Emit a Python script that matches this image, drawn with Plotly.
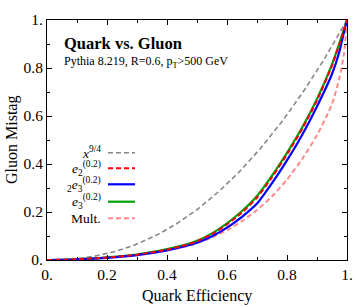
import numpy as np
import plotly.graph_objects as go

# Quark efficiency grid
eff = [0.0, 0.1, 0.2, 0.3, 0.4, 0.45, 0.5, 0.55, 0.6, 0.65, 0.7, 0.75, 0.8, 0.85, 0.9, 0.95, 0.975, 0.99, 1.0]

# Gluon mistag per observable
e2_vals   = [0.0, 0.003, 0.010, 0.022, 0.043, 0.058, 0.078, 0.108, 0.148, 0.198, 0.260, 0.345, 0.440, 0.545, 0.665, 0.810, 0.900, 0.960, 1.0]
e3_vals   = [0.0, 0.003, 0.011, 0.023, 0.045, 0.060, 0.080, 0.111, 0.153, 0.204, 0.267, 0.352, 0.447, 0.551, 0.671, 0.815, 0.905, 0.962, 1.0]
e3d2_vals = [0.0, 0.003, 0.009, 0.020, 0.040, 0.054, 0.072, 0.099, 0.135, 0.180, 0.235, 0.320, 0.415, 0.520, 0.640, 0.775, 0.870, 0.950, 1.0]
mult_vals = [0.0, 0.003, 0.009, 0.020, 0.040, 0.053, 0.070, 0.094, 0.124, 0.162, 0.208, 0.265, 0.335, 0.420, 0.520, 0.650, 0.760, 0.860, 1.0]

ref_x = np.linspace(0, 1, 101)
ref_y = ref_x ** 2.25

tick_vals = [0, 0.2, 0.4, 0.6, 0.8, 1.0]
tick_text = ["0.", "0.2", "0.4", "0.6", "0.8", "1."]

serif = "Liberation Serif, Times New Roman, serif"

fig = go.Figure()
fig.add_trace(go.Scatter(x=ref_x, y=ref_y, mode="lines", cliponaxis=False,
                         line=dict(color="#888888", width=1.6, dash="5px,3px")))
fig.add_trace(go.Scatter(x=eff, y=mult_vals, mode="lines", cliponaxis=False,
                         line=dict(color="#ff8a8a", width=2, dash="5px,3px", shape="spline", smoothing=0.6)))
fig.add_trace(go.Scatter(x=eff, y=e3_vals, mode="lines", cliponaxis=False,
                         line=dict(color="#00a000", width=2.2, shape="spline", smoothing=0.6)))
fig.add_trace(go.Scatter(x=eff, y=e3d2_vals, mode="lines", cliponaxis=False,
                         line=dict(color="#0000ff", width=2.2, shape="spline", smoothing=0.6)))
fig.add_trace(go.Scatter(x=eff, y=e2_vals, mode="lines", cliponaxis=False,
                         line=dict(color="#ff0000", width=2, dash="5px,3px", shape="spline", smoothing=0.6)))

axis_common = dict(
    range=[0, 1], showgrid=False, zeroline=False, showline=True,
    linecolor="black", linewidth=1, mirror="ticks", automargin=False,
    ticks="inside", ticklen=5, tickcolor="black", tickwidth=1,
    tickvals=tick_vals, ticktext=tick_text,
    tickfont=dict(family=serif, size=15.5, color="black"),
    minor=dict(ticks="inside", ticklen=3, tickcolor="black", dtick=0.1, tick0=0),
)

fig.update_layout(
    width=354, height=306,
    margin=dict(l=47, r=7, t=20, b=46),
    paper_bgcolor="white", plot_bgcolor="white",
    showlegend=False,
    xaxis=axis_common,
    yaxis=axis_common,
)

def px_x(p):
    return (p - 47) / 300

def px_y(p):
    return (260 - p) / 240

# Axis titles
fig.add_annotation(xref="paper", yref="paper", x=px_x(197), y=px_y(296),
                   text="Quark Efficiency", showarrow=False,
                   xanchor="center", yanchor="middle",
                   font=dict(family=serif, size=16, color="black"))
fig.add_annotation(xref="paper", yref="paper", x=px_x(12), y=px_y(140),
                   text="Gluon Mistag", showarrow=False, textangle=-90,
                   xanchor="center", yanchor="middle",
                   font=dict(family=serif, size=16, color="black"))

# Header text
fig.add_annotation(xref="paper", yref="paper", x=px_x(62), y=px_y(43),
                   text="<b>Quark vs. Gluon</b>", showarrow=False,
                   xanchor="left", yanchor="middle",
                   font=dict(family=serif, size=16.5, color="black"))
fig.add_annotation(xref="paper", yref="paper", x=px_x(62), y=px_y(62),
                   text="Pythia 8.219, R=0.6, p<sub>T</sub>>500 GeV", showarrow=False,
                   xanchor="left", yanchor="middle",
                   font=dict(family=serif, size=12, color="black"))

# Legend (manual)
leg_labels = ["<i>x</i><sup>9/4</sup>",
              "<i>e</i><sub>2</sub><sup>(0.2)</sup>",
              "<sub>2</sub><i>e</i><sub>3</sub><sup>(0.2)</sup>",
              "<i>e</i><sub>3</sub><sup>(0.2)</sup>",
              "Mult."]
leg_y_px = [152.7, 168.3, 184.3, 201.7, 218.3]
leg_styles = [dict(color="#888888", width=1.6, dash="5px,3px"),
              dict(color="#ff0000", width=2, dash="5px,3px"),
              dict(color="#0000ff", width=2.2),
              dict(color="#00a000", width=2.2),
              dict(color="#ff8a8a", width=2, dash="5px,3px")]
for lab, ypx, st in zip(leg_labels, leg_y_px, leg_styles):
    yy = px_y(ypx)
    fig.add_annotation(xref="paper", yref="paper", x=px_x(103), y=yy,
                       text=lab, showarrow=False, xanchor="right", yanchor="middle",
                       font=dict(family=serif, size=13.5, color="black"))
    fig.add_shape(type="line", xref="paper", yref="paper",
                  x0=px_x(108), x1=px_x(135), y0=yy, y1=yy, line=st)

fig.write_html("out.html", config={"displayModeBar": False},
               post_script="document.body.style.margin='0';document.body.style.overflow='hidden';")
